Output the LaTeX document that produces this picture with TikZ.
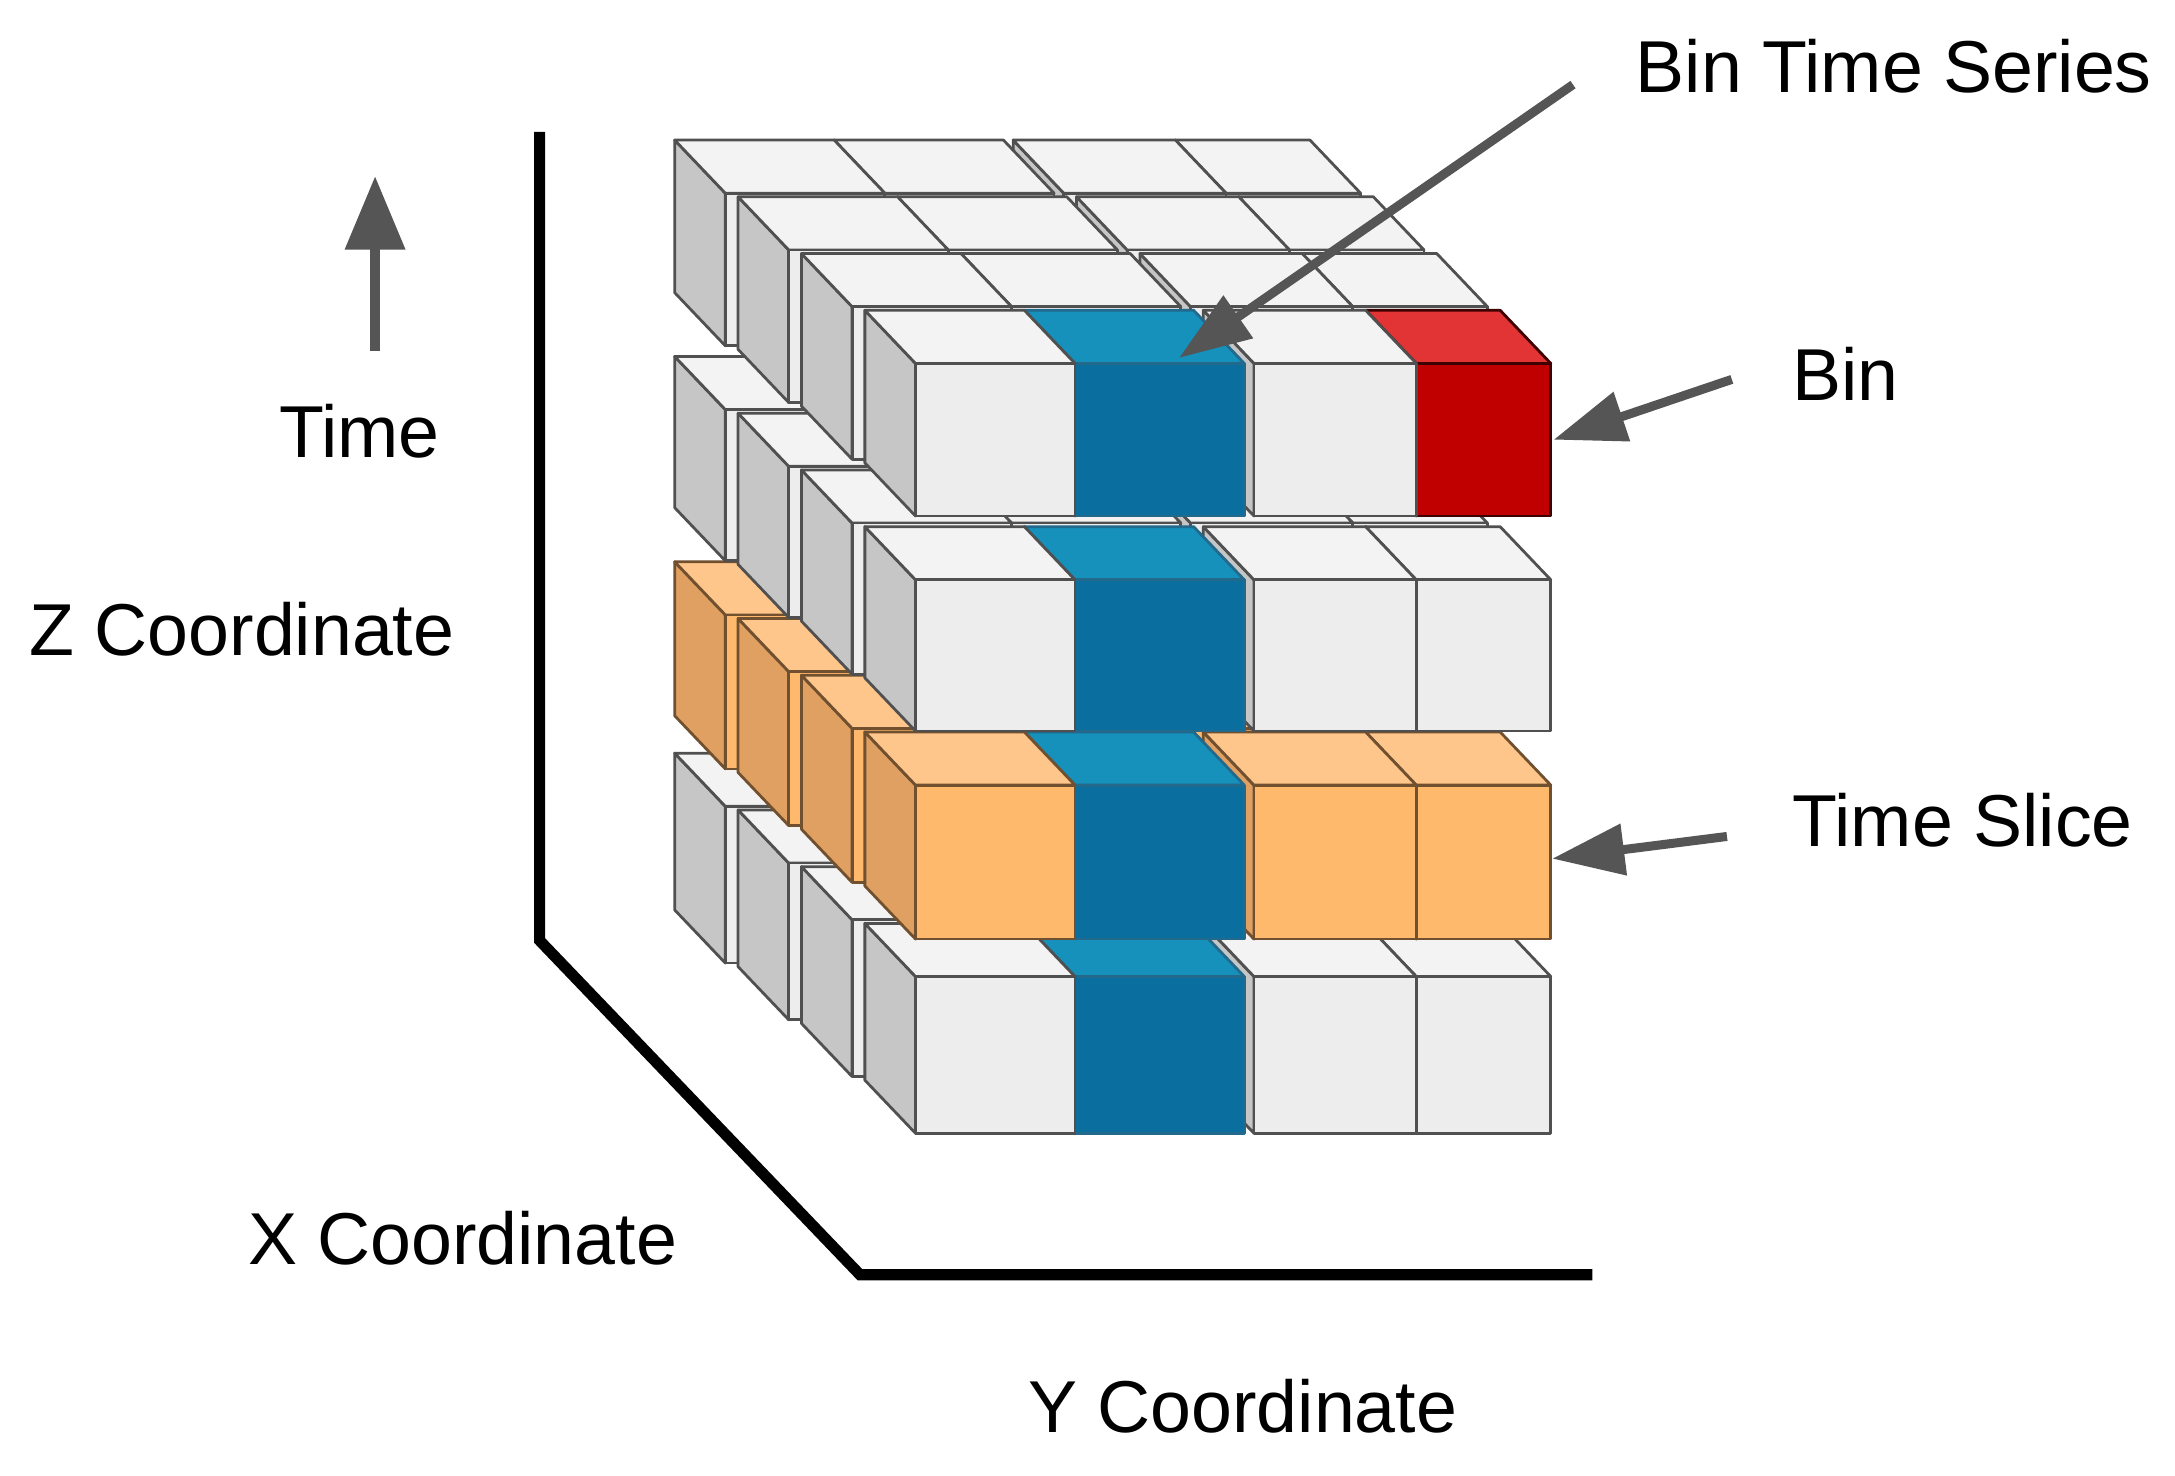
\documentclass[tikz,border=0pt]{standalone}
\usepackage{fontspec}
\setmainfont{Liberation Sans}
\usetikzlibrary{arrows.meta}
\definecolor{wfront}{HTML}{EDEDED}
\definecolor{wtop}{HTML}{F3F3F3}
\definecolor{wside}{HTML}{C6C6C6}
\definecolor{wedge}{HTML}{505050}
\definecolor{bfront}{HTML}{0A6F9F}
\definecolor{btop}{HTML}{1591BC}
\definecolor{bside}{HTML}{085A82}
\definecolor{bedge}{HTML}{22698C}
\definecolor{rfront}{HTML}{C00000}
\definecolor{rtop}{HTML}{E23434}
\definecolor{rside}{HTML}{9A0000}
\definecolor{redge}{HTML}{3E0000}
\definecolor{ofront}{HTML}{FFB96C}
\definecolor{otop}{HTML}{FFC68C}
\definecolor{oside}{HTML}{DFA062}
\definecolor{oedge}{HTML}{70502F}
\definecolor{arrgray}{HTML}{555555}
\newcommand{\setpal}[1]{\def\cF{#1front}\def\cT{#1top}\def\cS{#1side}\def\cE{#1edge}}
\newcommand{\drawcube}[4]{%
  \filldraw[cubeline, fill=\cS, draw=\cE] (#1,#2) -- ++(-36.5,-38.3) -- ++(0,#4-#2) -- (#1,#4) -- cycle;
  \filldraw[cubeline, fill=\cT, draw=\cE] (#1,#2) -- (#3,#2) -- ++(-36.5,-38.3) -- ++(#1-#3,0) -- cycle;
  \filldraw[cubeline, fill=\cF, draw=\cE] (#1,#2) rectangle (#3,#4);
}
\begin{document}
\begin{tikzpicture}[x=1pt,y=-1pt,
  cubeline/.style={line width=2pt, line join=round},
  lbl/.style={anchor=base west, inner sep=0pt, font=\fontsize{53}{60}\selectfont, text=black},
  pointer/.style={draw=arrgray, line width=6.5pt, -{Triangle[length=52pt,width=36pt]}},
  axisline/.style={line width=8pt, line join=miter, draw=black}]
\fill[white] (0,0) rectangle (1568,1063.4);
\useasboundingbox (0,0) rectangle (1568,1063.4);

% cube stack: layers bottom to top, rows back to front, columns right to left
\foreach \li/\tY/\bY in {4/704/817,3/566/677,2/418/527,1/262/372}{
  \foreach \ri in {3,2,1,0}{
    \foreach \ci/\xa/\xb in {3/1021/1118,2/904/1021,1/775/897,0/660/775}{
      \pgfmathsetmacro\xA{\xa+\ri*(-45.7)}
      \pgfmathsetmacro\xB{\xb+\ri*(-45.7)}
      \pgfmathsetmacro\yA{\tY+\ri*(-40.9)}
      \pgfmathsetmacro\yB{\bY+\ri*(-40.9)}
      \setpal{w}%
      \ifnum\li=3 \setpal{o}\fi
      \ifnum\ri=0
        \ifnum\ci=1 \setpal{b}\fi
        \ifnum\ci=3 \ifnum\li=1 \setpal{r}\fi\fi
      \fi
      \drawcube{\xA}{\yA}{\xB}{\yB}
    }
  }
}

% axes
\coordinate (ztop) at (389,95);
\coordinate (zbot) at (389,678);
\coordinate (xend) at (620,919);
\coordinate (yend) at (1148,919);
\draw[axisline] (ztop) -- (zbot) -- (xend) -- (yend);

% time arrow
\coordinate (tfrom) at (270.4,253);
\coordinate (tto) at (270.4,127);
\draw[draw=arrgray, line width=7pt, -{Triangle[length=53pt,width=42pt]}] (tfrom) -- (tto);

% labels
\node[lbl] (bts) at (1179,67) {Bin Time Series};
\node[lbl] (bin) at (1292,289) {Bin};
\node[lbl] (ts) at (1292,610.5) {Time Slice};
\node[lbl] (time) at (201,330) {Time};
\node[lbl] (zc) at (21,472.3) {Z Coordinate};
\node[lbl] (xc) at (178.6,911.7) {X Coordinate};
\node[lbl] (yc) at (741,1032.5) {Y Coordinate};

% pointers
\coordinate (btsfrom) at (1134,61);
\coordinate (btsto) at (850,258);
\coordinate (binfrom) at (1248.5,273.5);
\coordinate (binto) at (1120,317);
\coordinate (tsfrom) at (1245,603);
\coordinate (tsto) at (1119,619);
\draw[pointer] (btsfrom) -- (btsto);
\draw[pointer] (binfrom) -- (binto);
\draw[pointer] (tsfrom) -- (tsto);
\end{tikzpicture}
\end{document}
